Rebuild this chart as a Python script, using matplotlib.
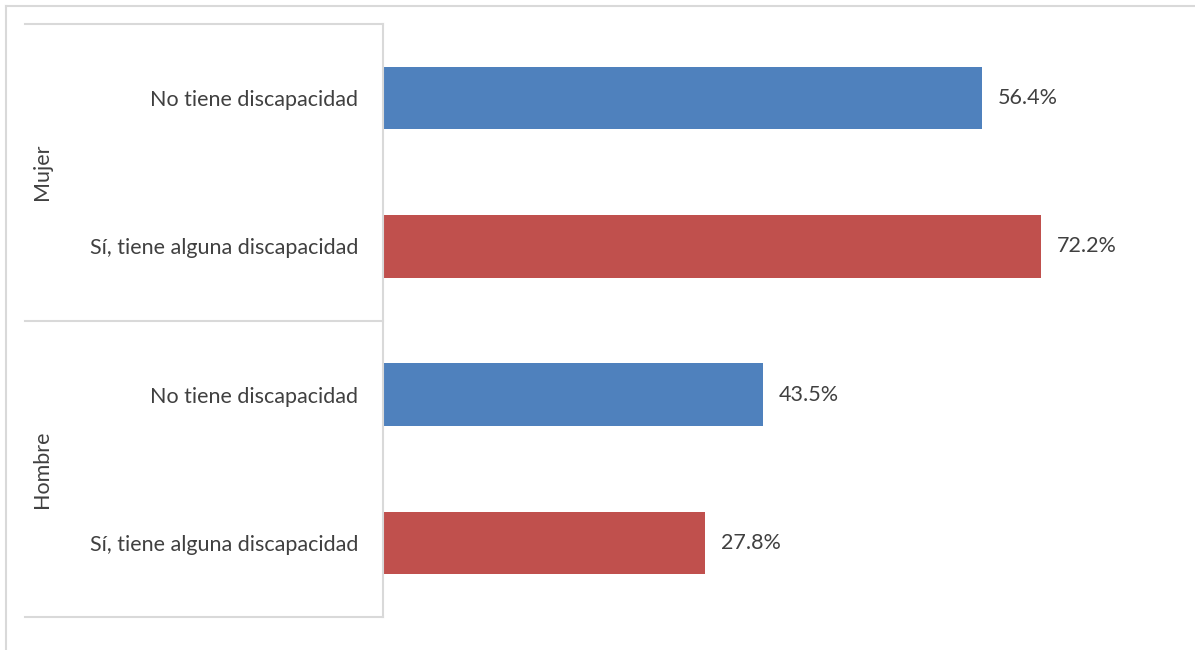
import matplotlib.pyplot as plt
import matplotlib.transforms as mtransforms
from matplotlib.lines import Line2D

plt.switch_backend("Agg")
plt.rcParams["font.family"] = ["Lato", "DejaVu Sans"]

# data
groups = ["Mujer", "Hombre"]
categories = ["No tiene discapacidad", "Sí, tiene alguna discapacidad",
              "No tiene discapacidad", "Sí, tiene alguna discapacidad"]
pct_labels = [56.4, 72.2, 43.5, 27.8]
# bar lengths as drawn in the original (not proportional to the labels)
bar_values = [76.1, 83.6, 48.3, 40.9]
colors = ["#4F81BD", "#C0504D", "#4F81BD", "#C0504D"]

W, H = 1195, 650
fig = plt.figure(figsize=(W / 100, H / 100), dpi=100)
ax = fig.add_axes([383 / W, 1 - 617 / H, (1170 - 383) / W, (617 - 24) / H])

grid = "#D9D9D9"
text_c = "#404040"
fs = 15.5

pos = list(range(len(categories)))
ax.barh(pos, bar_values, height=0.42, color=colors)
ax.set_xlim(0, 100)
ax.set_ylim(len(categories) - 0.5, -0.5)

for y, v, p in zip(pos, bar_values, pct_labels):
    ax.annotate(f"{p:.1f}%", (v, y), xytext=(16, 0), textcoords="offset pixels",
                va="center", ha="left", fontsize=fs, color=text_c)

ax.set_xticks([])
ax.set_yticks(pos)
ax.set_yticklabels(categories, fontsize=fs, color=text_c)
ax.tick_params(axis="y", length=0, pad=18)
for s in ["top", "right", "bottom"]:
    ax.spines[s].set_visible(False)
ax.spines["left"].set_color(grid)
ax.spines["left"].set_linewidth(1.5)

# group separators and group labels
trans = mtransforms.blended_transform_factory(fig.transFigure, ax.transData)
for yb in [-0.5, 1.5, 3.5]:
    fig.add_artist(Line2D([25 / W, 383 / W], [yb, yb], transform=trans,
                          color=grid, lw=1.5))
for i, g in enumerate(groups):
    fig.text(42 / W, i * 2 + 0.5, g, transform=trans, rotation=90,
             ha="center", va="center", fontsize=fs, color=text_c)

# outer chart border (partly cropped)
fig.add_artist(Line2D([6 / W, 1], [1 - 6 / H, 1 - 6 / H], color=grid, lw=1.5))
fig.add_artist(Line2D([6 / W, 6 / W], [0, 1 - 6 / H], color=grid, lw=1.5))

fig.savefig("out.png", dpi=100, facecolor="white")
